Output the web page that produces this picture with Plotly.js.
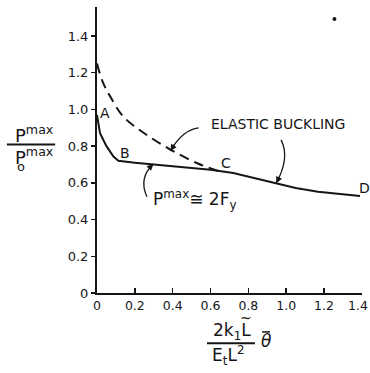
<!DOCTYPE html>
<html>
<head>
<meta charset="utf-8">
<script src="https://cdn.plot.ly/plotly-3.0.1.min.js"></script>
<style>html,body{margin:0;padding:0;background:#fff;}#chart{width:370px;height:373px;}</style>
</head>
<body>
<div id="chart"></div>
<script>
// ---- data ----
const solidX = [0, 0.016, 0.033, 0.05, 0.087, 0.113, 0.2, 0.317, 0.45, 0.6, 0.72, 0.85, 0.947, 1.05, 1.168, 1.3, 1.39];
const solidY = [0.97, 0.87, 0.835, 0.80, 0.743, 0.72, 0.71, 0.698, 0.688, 0.672, 0.654, 0.622, 0.594, 0.572, 0.552, 0.537, 0.528];
const dashX = [0, 0.03, 0.07, 0.14, 0.25, 0.39, 0.53, 0.64];
const dashY = [1.25, 1.15, 1.07, 0.96, 0.87, 0.78, 0.707, 0.665];
const dotX = [1.255];
const dotY = [1.493];
const xTicks = [0, 0.2, 0.4, 0.6, 0.8, 1.0, 1.2, 1.4];
// last label padded so it stays inside the page edge
const xTickText = ["0", "0.2", "0.4", "0.6", "0.8", "1.0", "1.2", "1.4\u00a0\u00a0"];
const yTicks = [0, 0.2, 0.4, 0.6, 0.8, 1.0, 1.2, 1.4];
const yTickText = ["0", "0.2", "0.4", "0.6", "0.8", "1.0", "1.2", "1.4"];
const pointLabels = ["A", "B", "C", "D"];
const pointLabelX = [0.043, 0.149, 0.681, 1.0];
const pointLabelY = [0.98, 0.763, 0.708, 0.572];

const ink = '#161616';
const F = 'DejaVu Sans';

const traces = [
  {x: solidX, y: solidY, mode: 'lines', line: {color: ink, width: 2}, cliponaxis: false, hoverinfo: 'skip'},
  {x: dashX, y: dashY, mode: 'lines', line: {color: ink, width: 2, dash: '10px,6px', shape: 'spline'}, cliponaxis: false, hoverinfo: 'skip'},
  {x: dotX, y: dotY, mode: 'markers', marker: {color: ink, size: 4}, hoverinfo: 'skip'}
];

const ann = [];
function txt(text, x, y, size, opts) {
  ann.push(Object.assign({text: text, x: x, y: y, showarrow: false, font: {family: F, size: size, color: ink},
    xanchor: 'center', yanchor: 'middle'}, opts || {}));
}
// point labels (D sits past the axis end, so it is placed in paper units)
pointLabels.forEach((t, i) => {
  if (i === 3) {
    txt(t, 1.038, pointLabelY[i], 14, {xref: 'paper', yref: 'y', xanchor: 'right'});
  } else {
    txt(t, pointLabelX[i], pointLabelY[i], 14, {xref: 'x', yref: 'y'});
  }
});
txt('ELASTIC BUCKLING', 0.957, 0.921, 14, {xref: 'x', yref: 'y'});
txt('P<sup>max</sup>≅ 2F<sub>y</sub>', 0.516, 0.507, 17, {xref: 'x', yref: 'y'});

// arrowheads
function head(x, y, ax, ay) {
  ann.push({x: x, y: y, xref: 'x', yref: 'y', text: '', showarrow: true, ax: ax, ay: ay,
    arrowhead: 2, arrowsize: 1, arrowwidth: 1.3, arrowcolor: ink, standoff: 0});
}
head(0.388, 0.774, 5, -8);
head(0.947, 0.598, 4, -8);
head(0.298, 0.703, -6, 6);

// y-axis title (fraction)
txt('P<sup>max</sup>', -0.2377, 0.556, 18, {xref: 'paper', yref: 'paper'});
txt('P<sup>max</sup>', -0.2377, 0.479, 18, {xref: 'paper', yref: 'paper'});
txt('o', -0.287, 0.4406, 13, {xref: 'paper', yref: 'paper'});
// x-axis title (fraction)
txt('2k<sub>1</sub>L', 0.509, -0.133, 17, {xref: 'paper', yref: 'paper'});
txt('~', 0.562, -0.087, 14, {xref: 'paper', yref: 'paper'});
txt('E<sub>t</sub>L<sup>2</sup>', 0.494, -0.217, 17, {xref: 'paper', yref: 'paper'});
txt('<i>θ</i>', 0.638, -0.168, 17, {xref: 'paper', yref: 'paper'});

const shapes = [
  // fraction bars
  {type: 'line', xref: 'paper', yref: 'paper', x0: -0.340, x1: -0.158, y0: 0.519, y1: 0.519, line: {color: ink, width: 2}},
  {type: 'line', xref: 'paper', yref: 'paper', x0: 0.415, x1: 0.596, y0: -0.176, y1: -0.176, line: {color: ink, width: 2}},
  {type: 'line', xref: 'paper', yref: 'paper', x0: 0.623, x1: 0.653, y0: -0.136, y1: -0.136, line: {color: ink, width: 1.5}},
  // curved leader lines
  {type: 'path', xref: 'x', yref: 'y', path: 'M 0.537,0.899 Q 0.452,0.888 0.388,0.774', line: {color: ink, width: 1.3}},
  {type: 'path', xref: 'x', yref: 'y', path: 'M 0.973,0.834 Q 1.021,0.736 0.947,0.598', line: {color: ink, width: 1.3}},
  {type: 'path', xref: 'x', yref: 'y', path: 'M 0.264,0.524 Q 0.218,0.627 0.298,0.703', line: {color: ink, width: 1.3}}
];

const layout = {
  width: 370, height: 373,
  margin: {l: 97, r: 8, t: 7, b: 80, pad: 0},
  paper_bgcolor: '#fff', plot_bgcolor: '#fff',
  showlegend: false,
  font: {family: F, color: ink},
  xaxis: {range: [0, 1.4006], tickvals: xTicks, ticktext: xTickText, ticks: 'inside', ticklen: 5, tickwidth: 1.5,
    tickcolor: ink, showline: true, linewidth: 2, linecolor: ink, showgrid: false, zeroline: false,
    ticklabeloverflow: 'allow',
    tickfont: {family: F, size: 12.5, color: ink}, fixedrange: true},
  yaxis: {range: [0, 1.558], tickvals: yTicks, ticktext: yTickText, ticks: 'outside', ticklen: 4, tickwidth: 1.5,
    tickcolor: ink, showline: true, linewidth: 2, linecolor: ink, showgrid: false, zeroline: false,
    tickfont: {family: F, size: 13, color: ink}, fixedrange: true},
  annotations: ann,
  shapes: shapes
};

Plotly.newPlot('chart', traces, layout, {staticPlot: true, displayModeBar: false});
</script>
</body>
</html>
